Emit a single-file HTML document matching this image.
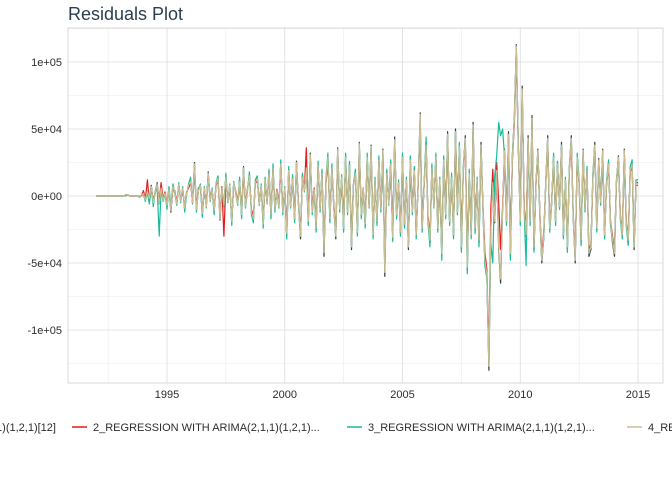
<!DOCTYPE html>
<html><head><meta charset="utf-8"><style>
body{margin:0;background:#fff;font-family:"Liberation Sans",sans-serif;}
#wrap{position:relative;width:672px;height:480px;overflow:hidden;}
</style></head><body>
<div id="wrap">
<svg id="svg" width="672" height="480" xmlns="http://www.w3.org/2000/svg"></svg>
</div>
<script>
const startYear = 1992;
const stepYears = 1/12;
const xTicks = [1995, 2000, 2005, 2010, 2015];
const yTicks = [100000, 50000, 0, -50000, -100000];
const yTickLabels = ["1e+05", "5e+04", "0e+00", "-5e+04", "-1e+05"];
const seriesNames = ["1_REGRESSION WITH ARIMA(2,1,1)(1,2,1)[12]", "2_REGRESSION WITH ARIMA(2,1,1)(1,2,1)...", "3_REGRESSION WITH ARIMA(2,1,1)(1,2,1)...", "4_REGRESSION WITH ARIMA(2,1,1)(1,2,1)..."];
const seriesColors = ["#2c3e50", "#e31a1c", "#18bc9c", "#ccbe93"];
const s1 = [
0,0,0,0,0,0,0,0,0,0,0,0,
0,0,0,1,1,0,0,0,0,0,-1,0,
2,-3,4,-2,8,-5,3,10,-6,6,-3,2,
-8,5,-12,7,3,-6,9,-4,6,-10,2,8,
12,-5,25,-10,4,8,-14,6,-8,18,-3,5,
-12,9,14,-18,6,-7,15,-4,8,-20,10,3,
-6,12,-15,22,-8,5,16,-12,-18,10,14,-6,
8,-22,12,-5,18,-15,22,-10,4,-8,25,-12,
6,-30,20,-8,14,-18,26,-6,-32,15,4,22,
-20,32,-12,5,-25,24,-10,18,-45,12,30,-18,
22,-8,-32,36,-10,14,-25,30,-12,24,-40,8,
18,-28,40,-15,6,-22,30,-8,38,-30,12,-20,
28,-10,35,-60,18,-6,25,-32,44,-15,10,-28,
30,-22,12,-40,28,-12,20,-30,10,62,-25,8,
40,-18,-35,22,-8,30,-25,12,-45,28,-15,48,
-20,15,-30,50,-12,38,-40,20,45,-55,18,-30,
55,-25,12,-35,40,-10,-50,-60,-130,-25,10,-20,
20,-40,-65,-10,35,-20,48,-45,30,60,113,40,
-20,82,-10,-30,45,-20,60,-40,10,35,-15,-50,
-30,10,45,-25,-5,30,-20,25,-8,40,-30,12,
-40,20,45,-15,-50,30,10,-35,35,-10,20,-45,
-40,15,40,-25,28,-5,35,-30,10,25,-20,-35,
-45,10,30,-15,-30,35,-20,-35,20,25,-40,10,
10];
const s2 = [
0,0,0,0,0,0,0,0,0,0,0,0,
0,0,0,1,1,0,0,0,0,0,-1,0,
4,-2,12,-4,6,-3,2,8,-4,10,-2,3,
-6,6,-10,5,4,-5,8,-3,5,-8,3,6,
10,-4,18,-8,6,7,-12,5,-6,15,-2,4,
-10,8,12,-15,7,-30,12,-3,6,-18,9,4,
-5,10,-12,18,-6,6,14,-10,-15,9,12,-5,
7,-18,10,-4,15,-12,20,-8,5,-6,20,-10,
5,-25,18,-6,12,-15,22,-5,-26,14,5,36,
-16,28,-10,6,-20,20,-8,16,-38,10,26,-15,
20,-6,-28,30,-8,12,-22,26,-10,20,-34,8,
16,-24,34,-12,6,-18,26,-6,32,-26,10,-18,
24,-8,30,-50,16,-5,22,-28,38,-12,9,-24,
26,-18,10,-34,24,-10,18,-26,9,52,-22,8,
35,-15,-30,20,-6,26,-22,10,-38,24,-12,42,
-18,12,-26,44,-10,32,-35,18,40,-48,16,-26,
48,-20,10,-30,35,-8,-42,-55,-120,-10,20,-15,
25,-5,-40,-8,30,-15,42,-38,26,55,105,35,
-15,75,-8,-25,40,-18,52,-35,9,30,-13,-44,
-26,9,40,-22,-4,26,-18,22,-7,36,-28,10,
-35,18,40,-13,-44,26,9,-30,30,-9,18,-40,
-36,13,36,-22,24,-4,30,-26,9,22,-18,-30,
-40,9,26,-13,-26,30,-18,-30,18,22,-35,8,
8];
const s3 = [
0,0,0,0,0,0,0,0,0,0,0,0,
0,0,0,0,1,0,0,0,0,0,0,0,
1,-4,3,-6,6,-8,4,6,-30,5,-4,2,
-10,7,-8,9,2,-7,10,-5,7,-12,1,9,
14,-6,22,-12,5,9,-16,7,-9,16,-4,6,
-14,10,15,-16,5,-8,17,-5,9,-22,11,2,
-7,14,-17,20,-9,4,18,-14,-20,12,15,-7,
9,-24,14,-6,20,-17,24,-12,3,-9,27,-14,
7,-32,22,-9,16,-20,24,-7,-30,17,3,20,
-22,30,-14,4,-27,26,-12,20,-42,14,32,-20,
24,-9,-30,34,-12,16,-27,32,-14,26,-38,9,
20,-30,38,-17,5,-24,32,-9,36,-32,14,-22,
30,-12,33,-55,20,-7,27,-34,42,-17,12,-30,
32,-24,14,-38,30,-14,22,-32,12,58,-27,9,
44,-20,-38,24,-9,32,-27,14,-48,30,-17,46,
-22,17,-32,48,-14,40,-42,22,42,-58,20,-32,
52,-28,14,-38,38,-12,-52,-62,-125,-35,-50,15,
30,55,45,50,30,-22,46,-48,32,58,110,38,
-22,78,-12,-52,42,-22,58,-42,12,33,-17,-48,
-32,12,42,-27,-7,32,-22,26,-10,38,-32,14,
-42,22,42,-17,-48,32,12,-37,32,-12,22,-42,
-38,17,38,-27,26,-7,32,-32,12,27,-22,-32,
-42,12,28,-17,-32,32,-22,-37,22,27,-38,12,
12];
const s4 = [
0,0,0,0,0,0,0,0,0,0,0,0,
0,0,0,1,1,0,0,0,0,0,-1,0,
2,-3,4,-2,7,-5,3,9,-6,6,-3,2,
-7,5,-11,7,3,-6,9,-4,6,-9,2,8,
11,-5,24,-10,4,8,-13,6,-8,17,-3,5,
-11,9,13,-17,6,-7,14,-4,8,-19,10,3,
-6,11,-14,21,-8,5,15,-12,-17,10,13,-6,
8,-21,12,-5,17,-14,21,-10,4,-8,24,-12,
6,-28,19,-8,13,-17,25,-6,-30,14,4,21,
-19,31,-12,5,-24,23,-10,17,-42,12,29,-17,
21,-8,-30,35,-10,14,-24,29,-12,23,-38,8,
17,-27,39,-14,6,-21,29,-8,37,-29,12,-19,
27,-10,34,-57,17,-6,24,-31,42,-14,10,-27,
29,-21,12,-38,27,-12,19,-29,10,61,-24,8,
38,-17,-33,21,-8,29,-24,12,-43,27,-14,46,
-19,14,-29,48,-12,37,-38,19,43,-53,17,-29,
53,-24,12,-33,38,-10,-48,-58,-127,-24,10,-19,
19,-38,-62,-10,34,-19,46,-43,29,58,112,38,
-19,80,-10,-29,43,-19,58,-38,10,34,-14,-48,
-29,10,43,-24,-5,29,-19,24,-8,38,-29,12,
-38,19,43,-14,-48,29,10,-33,34,-10,19,-43,
-38,14,38,-24,27,-5,34,-29,10,24,-19,-33,
-43,10,29,-14,-29,34,-19,-33,19,24,-38,10,
9];
const allSeries = [s1, s2, s3, s4];

const NS = "http://www.w3.org/2000/svg";
const svg = document.getElementById("svg");
const L = 68, R = 663, T = 28, B = 383;
function xs(year){ return 167 + (year - 1995) * (638 - 167) / 20; }
function ys(v){ return 196 - v * (196 - 62) / 100000; }
function mk(tag, attrs, parent){ const e = document.createElementNS(NS, tag); for (const k in attrs) e.setAttribute(k, attrs[k]); (parent || svg).appendChild(e); return e; }

const gMinor = mk("g", {});


for (let v = -125000; v <= 125000; v += 50000) {
  const y = ys(v); if (y < T || y > B) continue;
  mk("line", {x1: L, x2: R, y1: y, y2: y, stroke: "#ebebeb", "stroke-width": 0.6}, gMinor);
}
for (let yr = 1992.5; yr <= 2017.5; yr += 5) {
  const x = xs(yr); if (x < L || x > R) continue;
  mk("line", {x1: x, x2: x, y1: T, y2: B, stroke: "#ebebeb", "stroke-width": 0.6}, gMinor);
}
const gMajor = mk("g", {});


yTicks.forEach((v, i) => {
  const y = ys(v);
  mk("line", {x1: L, x2: R, y1: y, y2: y, stroke: "#dcdcdc", "stroke-width": 0.8}, gMajor);
  const t = mk("text", {x: L - 6, y: y + 4, "text-anchor": "end", "font-size": 11, fill: "#2d2d2d"});
  t.textContent = yTickLabels[i];
  
  
});
xTicks.forEach(yr => {
  const x = xs(yr);
  mk("line", {x1: x, x2: x, y1: T, y2: B, stroke: "#dcdcdc", "stroke-width": 0.8}, gMajor);
  const t = mk("text", {x: x, y: B + 15, "text-anchor": "middle", "font-size": 11, fill: "#2d2d2d"});
  t.textContent = yr;
  
  
});
const frame = mk("rect", {x: L, y: T, width: R - L, height: B - T, fill: "none", stroke: "#d0d0d0", "stroke-width": 0.8});



allSeries.forEach((s, i) => {
  const d = s.map((v, j) => (j ? "L" : "M") + xs(startYear + j * stepYears).toFixed(1) + "," + ys(v * 1000).toFixed(1)).join("");
  const p = mk("path", {d: d, fill: "none", stroke: seriesColors[i], "stroke-width": 1.2, "stroke-linejoin": "round"});
  
  
});

const title = mk("text", {x: 68, y: 20, "font-size": 18, fill: "#2c3e50"});
title.textContent = "Residuals Plot";



const legendX = [-201, 72, 347, 627];
const gLeg = mk("g", {});


seriesNames.forEach((n, i) => {
  const x = legendX[i];
  mk("line", {x1: x, x2: x + 15, y1: 427, y2: 427, stroke: seriesColors[i], "stroke-width": 1.5}, gLeg);
  const t = mk("text", {x: x + 21, y: 431, "font-size": 11, fill: "#2d2d2d"}, gLeg);
  t.textContent = n;
  
  
});
</script>
</body></html>
